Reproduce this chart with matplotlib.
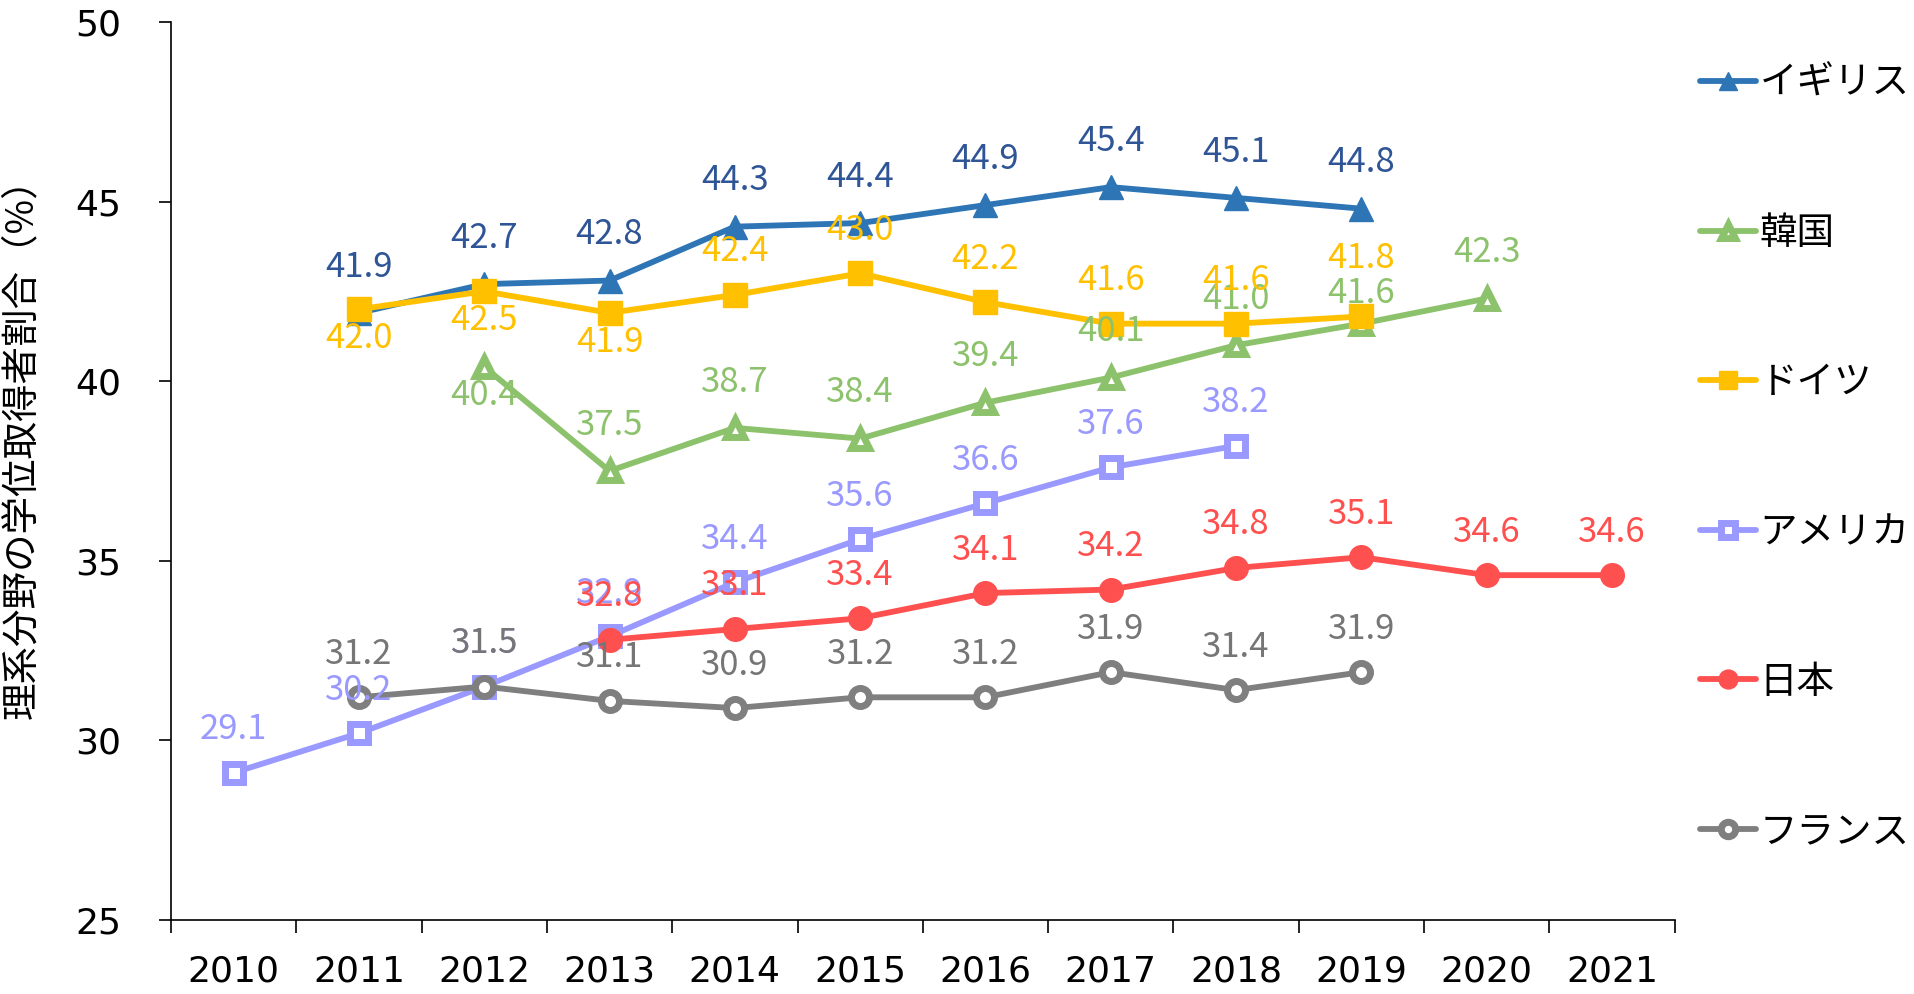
import matplotlib
matplotlib.use("Agg")
import matplotlib.pyplot as plt
import numpy as np

years = ['2010', '2011', '2012', '2013', '2014', '2015', '2016', '2017', '2018', '2019', '2020', '2021']

# values per country (None = no data)
uk = [None, 41.9, 42.7, 42.8, 44.3, 44.4, 44.9, 45.4, 45.1, 44.8, None, None]
korea = [None, None, 40.4, 37.5, 38.7, 38.4, 39.4, 40.1, 41.0, 41.6, 42.3, None]
germany = [None, 42.0, 42.5, 41.9, 42.4, 43.0, 42.2, 41.6, 41.6, 41.8, None, None]
usa = [29.1, 30.2, 31.5, 32.9, 34.4, 35.6, 36.6, 37.6, 38.2, None, None, None]
japan = [None, None, None, 32.8, 33.1, 33.4, 34.1, 34.2, 34.8, 35.1, 34.6, 34.6]
france = [None, 31.2, 31.5, 31.1, 30.9, 31.2, 31.2, 31.9, 31.4, 31.9, None, None]

# labels that sit below the point, and a few nudged ones (points)
below = {
    'ドイツ': ['2011', '2012', '2013'],
    '韓国': ['2012'],
}
nudge = {('ドイツ', '2019'): 42, ('韓国', '2019'): 22}

series = [
    ('イギリス', uk, '#2E75B6', '#2F5597', '^', True),
    ('韓国', korea, '#8DC26C', '#8DC26C', '^', False),
    ('ドイツ', germany, '#FFC000', '#FFC000', 's', True),
    ('アメリカ', usa, '#9999FF', '#9999FF', 's', False),
    ('日本', japan, '#FF5050', '#FF5050', 'o', True),
    ('フランス', france, '#7F7F7F', '#767676', 'o', False),
]

jp = ['Noto Sans CJK JP', 'DejaVu Sans']

fig = plt.figure(figsize=(19.14, 9.94), dpi=100)
ax = fig.add_axes([0.0893, 0.0744, 0.7857, 0.9036])

x = np.arange(len(years))
for name, vals, col, lcol, mk, filled in series:
    xs = [i for i, v in enumerate(vals) if v is not None]
    ys = [v for v in vals if v is not None]
    if filled:
        ms, mew = 17, 1
    else:
        ms, mew = 13, 5
    ax.plot(xs, ys, color=col, lw=4.2, marker=mk, markersize=ms,
            markerfacecolor=col if filled else 'white',
            markeredgecolor=col, markeredgewidth=mew,
            label=name, solid_capstyle='round', zorder=3)
    for xi, yi in zip(xs, ys):
        if years[xi] in below.get(name, []):
            off = -21
        else:
            off = 33 if mk == '^' else 31
        off = nudge.get((name, years[xi]), off)
        ax.annotate(f'{yi:.1f}', (xi, yi), xytext=(0, off), textcoords='offset points',
                    ha='center', va='center', fontsize=25, color=lcol,
                    family=jp, zorder=4)

ax.set_xlim(-0.5, len(years) - 0.5)
ax.set_ylim(25, 50)
ax.set_yticks([25, 30, 35, 40, 45, 50])
ax.set_xticks(np.arange(len(years) + 1) - 0.5)
ax.set_xticklabels([])
ax.set_xticks(x, minor=True)
ax.set_xticklabels(years, minor=True)
ax.tick_params(axis='x', which='major', length=9, width=1.2, direction='out')
ax.tick_params(axis='x', which='minor', length=0, pad=25, labelsize=26)
ax.tick_params(axis='y', length=9, width=1.2, labelsize=26, pad=27)
for s in ['top', 'right']:
    ax.spines[s].set_visible(False)
for s in ['left', 'bottom']:
    ax.spines[s].set_linewidth(1.2)

ax.set_ylabel('理系分野の学位取得者割合（%）', family=jp, fontsize=27)
ax.yaxis.set_label_coords(-0.0865, 0.535)

leg = ax.legend(loc='upper left', bbox_to_anchor=(1.0166, 0.953), frameon=False,
                prop={'family': jp, 'size': 27}, labelspacing=2.95,
                borderaxespad=0, borderpad=0,
                handlelength=1.5, handletextpad=0.1, markerscale=0.8)

fig.savefig('out.png', dpi=100)
